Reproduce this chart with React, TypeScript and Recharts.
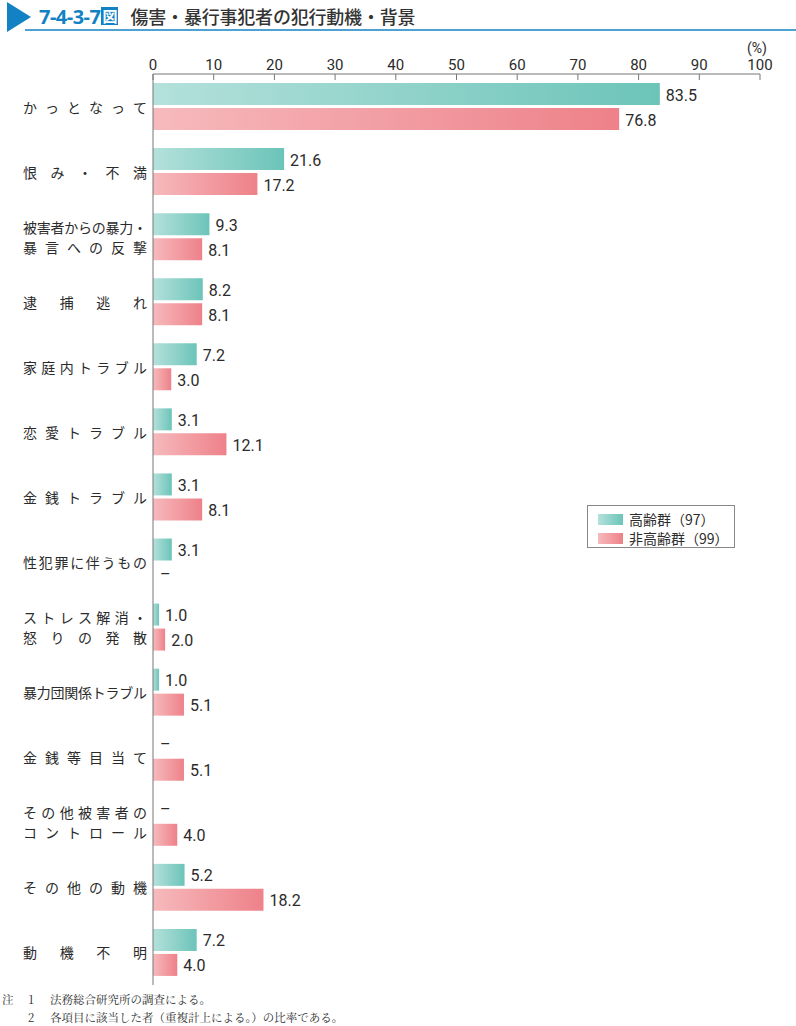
import React from 'react';
import { BarChart, Bar, XAxis, YAxis, LabelList } from 'recharts';

const categories = [
  'かっとなって',
  '恨み・不満',
  '被害者からの暴力・\n暴言への反撃',
  '逮捕逃れ',
  '家庭内トラブル',
  '恋愛トラブル',
  '金銭トラブル',
  '性犯罪に伴うもの',
  'ストレス解消・\n怒りの発散',
  '暴力団関係トラブル',
  '金銭等目当て',
  'その他被害者の\nコントロール',
  'その他の動機',
  '動機不明',
];

const elderly: (number | null)[] = [83.5, 21.6, 9.3, 8.2, 7.2, 3.1, 3.1, 3.1, 1.0, 1.0, null, null, 5.2, 7.2];
const nonElderly: (number | null)[] = [76.8, 17.2, 8.1, 8.1, 3.0, 12.1, 8.1, null, 2.0, 5.1, 5.1, 4.0, 18.2, 4.0];

const xTicks = [0, 10, 20, 30, 40, 50, 60, 70, 80, 90, 100];
const seriesNames = ['高齢群（97）', '非高齢群（99）'];

const fmt = (v: number | null) => (v == null ? '–' : v.toFixed(1));

const data = categories.map((name, i) => ({
  name,
  elderly: elderly[i],
  nonElderly: nonElderly[i],
  elderlyLabel: fmt(elderly[i]),
  nonElderlyLabel: fmt(nonElderly[i]),
}));

const TEXT = '#2b2b2b';
const NUM_FONT = 'Roboto, "Noto Sans", sans-serif';
const JP_FONT = '"Noto Sans CJK JP", sans-serif';
const BAR_SIZE = 22;
const BAR_GAP = 3;

const XTick = (props: any) => {
  const { x, y, payload } = props;
  const axisY = y + 8;
  return (
    <g>
      <line x1={x} x2={x} y1={axisY} y2={axisY + 6} stroke="#777" strokeWidth={1} />
      <text x={x} y={axisY - 4} textAnchor="middle" fontSize={15} fill={TEXT} fontFamily={NUM_FONT}>
        {payload.value}
      </text>
    </g>
  );
};

const YTick = (props: any) => {
  const { x, y, payload, index } = props;
  const lines = String(payload.value).split('\n');
  const left = 23;
  const span = 124;
  const fs = 14;
  const y0 = y - (lines.length - 1) * 10;
  const axisX = x + 8;
  const half = (BAR_SIZE + BAR_GAP) / 2;
  const dashes: { dy: number; show: boolean }[] = [
    { dy: -half, show: elderly[index] == null },
    { dy: half, show: nonElderly[index] == null },
  ];
  return (
    <g>
      {lines.map((line, li) => {
        const chars = Array.from(line);
        const n = chars.length;
        const step = n > 1 ? (span - fs) / (n - 1) : 0;
        return chars.map((c, ci) => (
          <text
            key={`${li}-${ci}`}
            x={left + ci * step}
            y={y0 + li * 20}
            dominantBaseline="central"
            fontSize={fs}
            fill={TEXT}
            fontFamily={JP_FONT}
          >
            {c}
          </text>
        ));
      })}
      {dashes.map((d, k) =>
        d.show ? (
          <text
            key={`d${k}`}
            x={axisX + 7}
            y={y + d.dy}
            dominantBaseline="central"
            fontSize={16}
            fill={TEXT}
            fontFamily={NUM_FONT}
          >
            –
          </text>
        ) : null,
      )}
    </g>
  );
};

const renderLabel = (props: any) => {
  const { x, y, width, height, value } = props;
  return (
    <text
      x={Number(x) + Number(width) + 6}
      y={Number(y) + Number(height) / 2 + 1}
      dominantBaseline="central"
      fontSize={16}
      fill={TEXT}
      fontFamily={NUM_FONT}
    >
      {value}
    </text>
  );
};

const tealGrad = 'linear-gradient(to right, #b4e1db, #6cc4b9)';
const pinkGrad = 'linear-gradient(to right, #f6babd, #ee8189)';

export default function App() {
  return (
    <div style={{ position: 'absolute', left: 0, top: 0, width: 796, height: 1026, background: '#fff', fontFamily: JP_FONT }}>
      {/* Title */}
      <svg width={796} height={36} style={{ position: 'absolute', left: 0, top: 0 }}>
        <polygon points="7,2 31,17 7,32" fill="#1282c4" />
        <line x1={25} x2={796} y1={30} y2={30} stroke="#1282c4" strokeWidth={1.5} />
      </svg>
      <div style={{ position: 'absolute', left: 39, top: 4, height: 24, display: 'flex', alignItems: 'center', whiteSpace: 'nowrap' }}>
        <span style={{ color: '#1282c4', fontWeight: 700, fontSize: 20, fontFamily: '"Noto Sans", sans-serif', letterSpacing: -0.5 }}>7-4-3-7</span>
        <span style={{ background: '#1282c4', color: '#fff', fontWeight: 700, fontSize: 15, lineHeight: '18px', padding: '0 1px', marginLeft: 1 }}>図</span>
        <span style={{ color: '#333', fontSize: 18, fontWeight: 500, marginLeft: 12, letterSpacing: -0.2 }}>傷害・暴行事犯者の犯行動機・背景</span>
      </div>

      {/* unit */}
      <div style={{ position: 'absolute', left: 747, top: 40, fontSize: 14, color: TEXT, fontFamily: NUM_FONT }}>(%)</div>

      <BarChart
        width={796}
        height={1026}
        data={data}
        layout="vertical"
        margin={{ top: 44, right: 36, bottom: 41, left: 13 }}
        barSize={BAR_SIZE}
        barGap={BAR_GAP}
      >
        <defs>
          <linearGradient id="gradTeal" x1="0" y1="0" x2="1" y2="0">
            <stop offset="0%" stopColor="#b4e1db" />
            <stop offset="100%" stopColor="#6cc4b9" />
          </linearGradient>
          <linearGradient id="gradPink" x1="0" y1="0" x2="1" y2="0">
            <stop offset="0%" stopColor="#f6babd" />
            <stop offset="100%" stopColor="#ee8189" />
          </linearGradient>
        </defs>
        <XAxis
          type="number"
          orientation="top"
          domain={[0, 100]}
          ticks={xTicks}
          interval={0}
          height={30}
          tickLine={false}
          axisLine={{ stroke: '#777' }}
          tick={<XTick />}
        />
        <YAxis
          type="category"
          dataKey="name"
          width={140}
          tickLine={false}
          axisLine={{ stroke: '#777' }}
          interval={0}
          tick={<YTick />}
        />
        <Bar dataKey="elderly" name={seriesNames[0]} fill="url(#gradTeal)" isAnimationActive={false}>
          <LabelList dataKey="elderlyLabel" content={renderLabel} />
        </Bar>
        <Bar dataKey="nonElderly" name={seriesNames[1]} fill="url(#gradPink)" isAnimationActive={false}>
          <LabelList dataKey="nonElderlyLabel" content={renderLabel} />
        </Bar>
      </BarChart>

      {/* Legend */}
      <div style={{ position: 'absolute', left: 587, top: 505, width: 148, height: 43, border: '1px solid #888', boxSizing: 'border-box', background: '#fff' }}>
        {seriesNames.map((s, i) => (
          <div key={s} style={{ position: 'absolute', left: 10, top: 5 + i * 19, height: 16, display: 'flex', alignItems: 'center' }}>
            <div style={{ width: 25, height: 11, background: i === 0 ? tealGrad : pinkGrad }} />
            <span style={{ marginLeft: 6, fontSize: 14, color: TEXT, whiteSpace: 'nowrap' }}>{s}</span>
          </div>
        ))}
      </div>

      {/* Notes */}
      <div style={{ position: 'absolute', left: 2, top: 990, fontSize: 11.5, color: TEXT, lineHeight: '18px', fontFamily: '"Noto Serif CJK JP", "Noto Sans CJK JP", serif' }}>
        <div style={{ display: 'flex' }}>
          <span style={{ width: 26 }}>注</span>
          <span style={{ width: 22 }}>1</span>
          <span>法務総合研究所の調査による。</span>
        </div>
        <div style={{ display: 'flex' }}>
          <span style={{ width: 26 }}></span>
          <span style={{ width: 22 }}>2</span>
          <span>各項目に該当した者（重複計上による。）の比率である。</span>
        </div>
      </div>
    </div>
  );
}
